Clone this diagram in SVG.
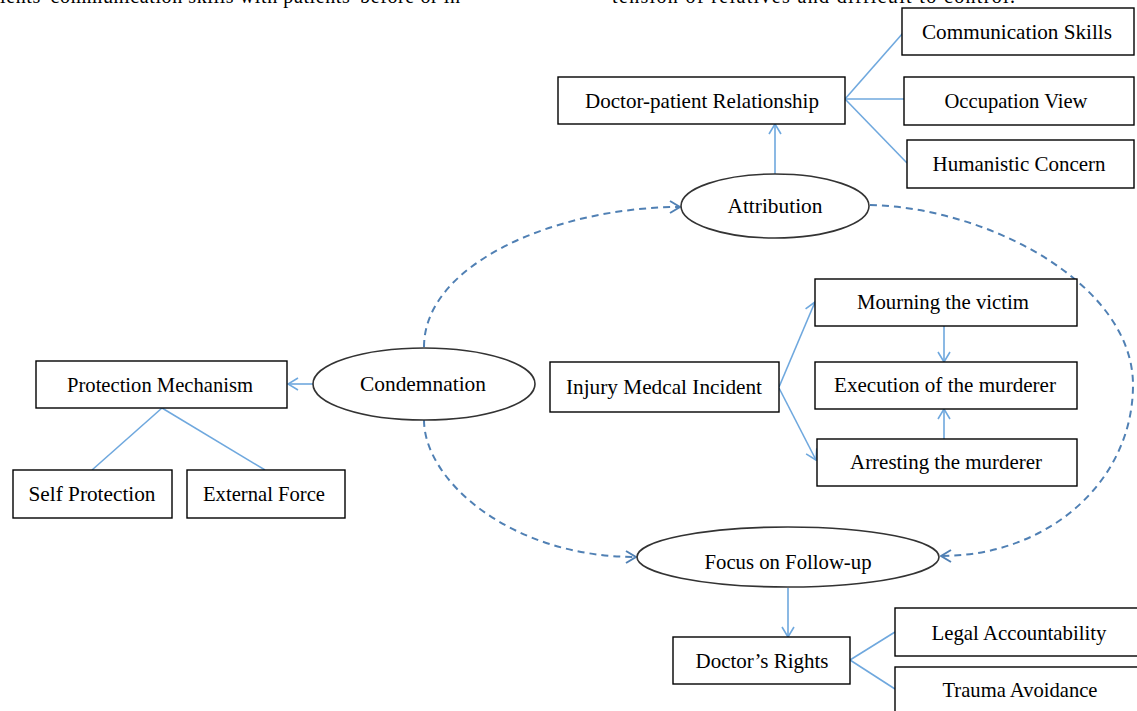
<svg xmlns="http://www.w3.org/2000/svg" width="1137" height="711" viewBox="0 0 1137 711">
<style>
.box{fill:#fff;stroke:#000;stroke-width:1.4}
.ell{fill:#fff;stroke:#333;stroke-width:1.6}
.t{font-family:"Liberation Serif","Times New Roman",serif;font-size:21px;fill:#000;text-anchor:middle}
.top{font-family:"Liberation Serif","Times New Roman",serif;font-size:20px;fill:#000}
.s{fill:none;stroke:#6fa8de;stroke-width:1.6}
.d{fill:none;stroke:#5080b4;stroke-width:2;stroke-dasharray:7 5}
</style>
<defs>
<marker id="ah" markerUnits="userSpaceOnUse" markerWidth="12" markerHeight="14" viewBox="0 0 12 14" refX="11" refY="7" orient="auto">
<path d="M1,1 L11,7 L1,13" fill="none" stroke="#6fa8de" stroke-width="1.6"/>
</marker>
<marker id="ahd" markerUnits="userSpaceOnUse" markerWidth="12" markerHeight="14" viewBox="0 0 12 14" refX="11" refY="7" orient="auto">
<path d="M1,1 L11,7 L1,13" fill="none" stroke="#5080b4" stroke-width="2"/>
</marker>
</defs>
<rect width="1137" height="711" fill="#fff"/>
<g id="page-text">
<text class="top" x="0" y="3" textLength="460" lengthAdjust="spacing">ients' communication skills with patients' before or in</text>
<text class="top" x="612" y="3" textLength="403" lengthAdjust="spacing">tension of relatives and difficult to control.</text>
</g>
<g id="connectors">
<line class="s" x1="775" y1="174" x2="775" y2="124" marker-end="url(#ah)"/>
<line class="s" x1="845" y1="99" x2="903" y2="33"/>
<line class="s" x1="845" y1="99" x2="905" y2="99"/>
<line class="s" x1="845" y1="99" x2="907" y2="163"/>
<line class="s" x1="313" y1="384" x2="288" y2="384" marker-end="url(#ah)"/>
<line class="s" x1="162" y1="408" x2="92" y2="470"/>
<line class="s" x1="162" y1="408" x2="265" y2="470"/>
<line class="s" x1="779" y1="387" x2="815" y2="302" marker-end="url(#ah)"/>
<line class="s" x1="779" y1="388" x2="816" y2="460" marker-end="url(#ah)"/>
<line class="s" x1="944" y1="326" x2="944" y2="362" marker-end="url(#ah)"/>
<line class="s" x1="944" y1="439" x2="944" y2="409" marker-end="url(#ah)"/>
<line class="s" x1="788" y1="588" x2="788" y2="637" marker-end="url(#ah)"/>
<line class="s" x1="850" y1="660" x2="895" y2="632"/>
<line class="s" x1="850" y1="660" x2="895" y2="689"/>
<path class="d" d="M424,347 C424,262 560,207 680,207" marker-end="url(#ahd)"/>
<path class="d" d="M870,205 C990,208 1133,285 1133,385 C1133,480 1050,556 941,556" marker-end="url(#ahd)"/>
<path class="d" d="M424,420 C424,480 510,557 636,557" marker-end="url(#ahd)"/>
</g>
<g id="communication-skills"><rect class="box" x="902" y="8" width="232" height="47"/><text class="t" x="1017" y="39" textLength="190" lengthAdjust="spacingAndGlyphs">Communication Skills</text></g>
<g id="doctor-patient-relationship"><rect class="box" x="558" y="77" width="287" height="47"/><text class="t" x="702" y="108" textLength="234" lengthAdjust="spacingAndGlyphs">Doctor-patient Relationship</text></g>
<g id="occupation-view"><rect class="box" x="904" y="77" width="230" height="48"/><text class="t" x="1016" y="108" textLength="143" lengthAdjust="spacingAndGlyphs">Occupation View</text></g>
<g id="humanistic-concern"><rect class="box" x="907" y="140" width="227" height="48"/><text class="t" x="1019" y="171" textLength="173" lengthAdjust="spacingAndGlyphs">Humanistic Concern</text></g>
<g id="attribution"><ellipse class="ell" cx="775" cy="206" rx="94" ry="32"/><text class="t" x="775" y="213" textLength="95" lengthAdjust="spacingAndGlyphs">Attribution</text></g>
<g id="protection-mechanism"><rect class="box" x="36" y="361" width="251" height="47"/><text class="t" x="160" y="392" textLength="186" lengthAdjust="spacingAndGlyphs">Protection Mechanism</text></g>
<g id="self-protection"><rect class="box" x="13" y="470" width="159" height="48"/><text class="t" x="92" y="501" textLength="127" lengthAdjust="spacingAndGlyphs">Self Protection</text></g>
<g id="external-force"><rect class="box" x="187" y="470" width="158" height="48"/><text class="t" x="264" y="501" textLength="122" lengthAdjust="spacingAndGlyphs">External Force</text></g>
<g id="condemnation"><ellipse class="ell" cx="424" cy="384" rx="111" ry="36"/><text class="t" x="423" y="391" textLength="126" lengthAdjust="spacingAndGlyphs">Condemnation</text></g>
<g id="injury-medical-incident"><rect class="box" x="550" y="362" width="229" height="50"/><text class="t" x="664" y="394" textLength="196" lengthAdjust="spacingAndGlyphs">Injury Medcal Incident</text></g>
<g id="mourning-the-victim"><rect class="box" x="815" y="279" width="262" height="47"/><text class="t" x="943" y="309" textLength="172" lengthAdjust="spacingAndGlyphs">Mourning the victim</text></g>
<g id="execution-of-the-murderer"><rect class="box" x="815" y="362" width="262" height="47"/><text class="t" x="945" y="392" textLength="222" lengthAdjust="spacingAndGlyphs">Execution of the murderer</text></g>
<g id="arresting-the-murderer"><rect class="box" x="817" y="439" width="260" height="47"/><text class="t" x="946" y="469" textLength="192" lengthAdjust="spacingAndGlyphs">Arresting the murderer</text></g>
<g id="focus-on-follow-up"><ellipse class="ell" cx="788" cy="557" rx="151" ry="30"/><text class="t" x="788" y="569" textLength="167" lengthAdjust="spacingAndGlyphs">Focus on Follow-up</text></g>
<g id="doctors-rights"><rect class="box" x="673" y="637" width="177" height="47"/><text class="t" x="762" y="668" textLength="133" lengthAdjust="spacingAndGlyphs">Doctor’s Rights</text></g>
<g id="legal-accountability"><rect class="box" x="895" y="608" width="245" height="48"/><text class="t" x="1019" y="640" textLength="175" lengthAdjust="spacingAndGlyphs">Legal Accountability</text></g>
<g id="trauma-avoidance"><rect class="box" x="895" y="667" width="245" height="50"/><text class="t" x="1020" y="697" textLength="155" lengthAdjust="spacingAndGlyphs">Trauma Avoidance</text></g>
</svg>
